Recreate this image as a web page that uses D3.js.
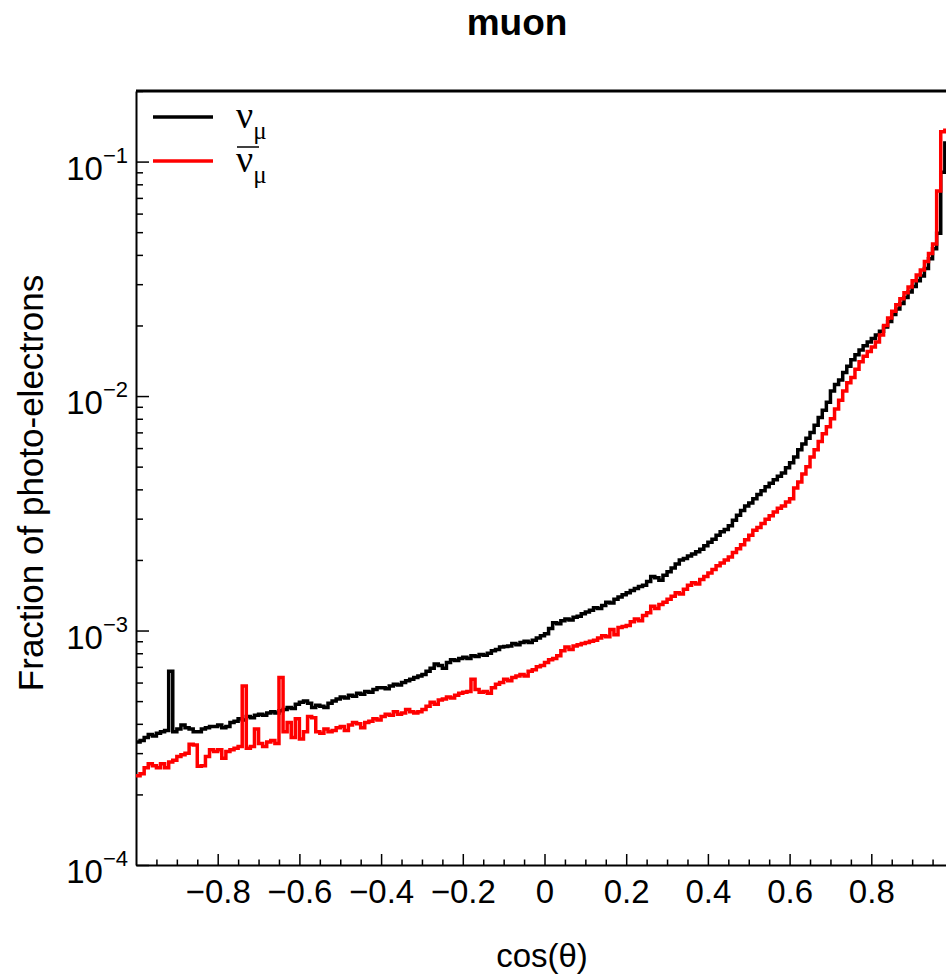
<!DOCTYPE html>
<html>
<head>
<meta charset="utf-8">
<script src="https://cdn.jsdelivr.net/npm/d3@7"></script>
<style>
body { margin: 0; background: #fff; }
</style>
</head>
<body>
<div id="box"></div>
<script>
// histogram binning (cos theta)
var xMin = -1, xMax = 1, binWidth = 0.01;

// nu_mu, fraction of photo-electrons per bin
var numu = [
3.35e-4, 3.4e-4, 3.5e-4, 3.6e-4, 3.55e-4, 3.65e-4, 3.7e-4, 3.75e-4, 6.7e-4, 3.7e-4,
3.8e-4, 3.95e-4, 3.85e-4, 3.8e-4, 3.7e-4, 3.7e-4, 3.8e-4, 3.85e-4, 3.9e-4, 3.9e-4,
3.95e-4, 3.85e-4, 3.9e-4, 4.05e-4, 4.1e-4, 4.2e-4, 4.15e-4, 4.3e-4, 4.25e-4, 4.35e-4,
4.4e-4, 4.35e-4, 4.45e-4, 4.5e-4, 4.45e-4, 4.55e-4, 4.6e-4, 4.7e-4, 4.65e-4, 4.85e-4,
4.95e-4, 5.0e-4, 4.9e-4, 4.7e-4, 4.8e-4, 4.75e-4, 4.7e-4, 4.9e-4, 5.0e-4, 5.1e-4,
5.2e-4, 5.15e-4, 5.3e-4, 5.25e-4, 5.4e-4, 5.35e-4, 5.5e-4, 5.45e-4, 5.6e-4, 5.7e-4,
5.7e-4, 5.65e-4, 5.8e-4, 5.9e-4, 5.85e-4, 6.0e-4, 6.1e-4, 6.2e-4, 6.3e-4, 6.4e-4,
6.5e-4, 6.7e-4, 6.9e-4, 7.2e-4, 7.1e-4, 6.9e-4, 7.3e-4, 7.5e-4, 7.45e-4, 7.6e-4,
7.7e-4, 7.6e-4, 7.8e-4, 7.75e-4, 7.9e-4, 7.85e-4, 8.0e-4, 8.2e-4, 8.3e-4, 8.5e-4,
8.55e-4, 8.6e-4, 8.8e-4, 8.7e-4, 8.9e-4, 9.0e-4, 8.9e-4, 9.1e-4, 9.3e-4, 9.5e-4,
9.7e-4, 1.02e-3, 1.08e-3, 1.07e-3, 1.10e-3, 1.12e-3, 1.11e-3, 1.14e-3, 1.15e-3, 1.18e-3,
1.20e-3, 1.22e-3, 1.25e-3, 1.24e-3, 1.28e-3, 1.32e-3, 1.31e-3, 1.36e-3, 1.39e-3, 1.42e-3,
1.45e-3, 1.48e-3, 1.51e-3, 1.54e-3, 1.56e-3, 1.62e-3, 1.70e-3, 1.68e-3, 1.64e-3, 1.72e-3,
1.78e-3, 1.85e-3, 1.92e-3, 2.00e-3, 2.03e-3, 2.08e-3, 2.12e-3, 2.17e-3, 2.22e-3, 2.30e-3,
2.38e-3, 2.45e-3, 2.55e-3, 2.64e-3, 2.70e-3, 2.80e-3, 2.95e-3, 3.10e-3, 3.25e-3, 3.40e-3,
3.50e-3, 3.65e-3, 3.80e-3, 3.95e-3, 4.10e-3, 4.25e-3, 4.40e-3, 4.55e-3, 4.70e-3, 4.95e-3,
5.20e-3, 5.50e-3, 5.90e-3, 6.25e-3, 6.60e-3, 7.00e-3, 7.50e-3, 8.10e-3, 8.70e-3, 9.40e-3,
1.05e-2, 1.12e-2, 1.17e-2, 1.26e-2, 1.34e-2, 1.43e-2, 1.50e-2, 1.57e-2, 1.64e-2, 1.70e-2,
1.76e-2, 1.82e-2, 1.89e-2, 1.97e-2, 2.08e-2, 2.23e-2, 2.35e-2, 2.48e-2, 2.63e-2, 2.78e-2,
2.93e-2, 3.10e-2, 3.25e-2, 3.50e-2, 3.85e-2, 4.25e-2, 4.95e-2, 9.0e-2, 1.2e-1, 1.9e-1
];

// anti nu_mu
var numubar = [
2.4e-4, 2.45e-4, 2.6e-4, 2.7e-4, 2.65e-4, 2.6e-4, 2.7e-4, 2.6e-4, 2.75e-4, 2.8e-4,
2.9e-4, 2.95e-4, 3.0e-4, 3.27e-4, 3.25e-4, 2.64e-4, 2.65e-4, 2.9e-4, 3.1e-4, 3.05e-4,
3.1e-4, 2.85e-4, 3.05e-4, 3.1e-4, 3.15e-4, 3.2e-4, 5.8e-4, 3.15e-4, 3.2e-4, 3.8e-4,
3.3e-4, 3.2e-4, 3.35e-4, 3.4e-4, 3.3e-4, 6.3e-4, 3.7e-4, 4.05e-4, 3.5e-4, 4.2e-4,
3.45e-4, 3.7e-4, 4.3e-4, 4.25e-4, 3.7e-4, 3.65e-4, 3.8e-4, 3.7e-4, 3.75e-4, 3.85e-4,
3.9e-4, 3.75e-4, 3.95e-4, 4.05e-4, 4.0e-4, 3.85e-4, 4.05e-4, 4.1e-4, 4.2e-4, 4.15e-4,
4.3e-4, 4.4e-4, 4.35e-4, 4.5e-4, 4.4e-4, 4.45e-4, 4.6e-4, 4.5e-4, 4.45e-4, 4.5e-4,
4.6e-4, 4.75e-4, 4.95e-4, 4.85e-4, 5.05e-4, 5.1e-4, 5.2e-4, 5.15e-4, 5.3e-4, 5.4e-4,
5.45e-4, 5.5e-4, 6.2e-4, 5.6e-4, 5.45e-4, 5.5e-4, 5.4e-4, 5.7e-4, 5.9e-4, 6.0e-4,
6.2e-4, 6.1e-4, 6.3e-4, 6.4e-4, 6.5e-4, 6.4e-4, 6.7e-4, 6.8e-4, 7.0e-4, 7.1e-4,
7.3e-4, 7.5e-4, 7.6e-4, 7.8e-4, 8.2e-4, 8.5e-4, 8.3e-4, 8.6e-4, 8.7e-4, 8.8e-4,
8.9e-4, 9.0e-4, 9.1e-4, 9.3e-4, 9.5e-4, 9.4e-4, 1.01e-3, 9.6e-4, 1.03e-3, 1.04e-3,
1.05e-3, 1.09e-3, 1.12e-3, 1.10e-3, 1.16e-3, 1.19e-3, 1.27e-3, 1.24e-3, 1.29e-3, 1.32e-3,
1.36e-3, 1.40e-3, 1.45e-3, 1.43e-3, 1.50e-3, 1.56e-3, 1.60e-3, 1.58e-3, 1.65e-3, 1.70e-3,
1.76e-3, 1.82e-3, 1.89e-3, 1.94e-3, 2.00e-3, 2.06e-3, 2.15e-3, 2.23e-3, 2.32e-3, 2.44e-3,
2.55e-3, 2.68e-3, 2.75e-3, 2.86e-3, 2.98e-3, 3.09e-3, 3.20e-3, 3.32e-3, 3.40e-3, 3.53e-3,
3.65e-3, 4.05e-3, 4.30e-3, 4.65e-3, 5.00e-3, 5.50e-3, 5.90e-3, 6.40e-3, 6.90e-3, 7.40e-3,
8.0e-3, 8.8e-3, 9.6e-3, 1.05e-2, 1.14e-2, 1.20e-2, 1.30e-2, 1.40e-2, 1.48e-2, 1.55e-2,
1.62e-2, 1.70e-2, 1.82e-2, 2.00e-2, 2.15e-2, 2.30e-2, 2.45e-2, 2.60e-2, 2.76e-2, 2.92e-2,
3.10e-2, 3.28e-2, 3.45e-2, 3.75e-2, 4.05e-2, 4.45e-2, 7.5e-2, 1.34e-1, 1.36e-1, 2.0e-1
];

var xTicks = [-0.8, -0.6, -0.4, -0.2, 0, 0.2, 0.4, 0.6, 0.8];
var xTickLabels = ["\u22120.8", "\u22120.6", "\u22120.4", "\u22120.2", "0", "0.2", "0.4", "0.6", "0.8"];
var yTicks = [1e-4, 1e-3, 1e-2, 1e-1];
var yTickExp = ["\u22124", "\u22123", "\u22122", "\u22121"];

var font = "'Liberation Sans', Arial, Helvetica, sans-serif";

document.addEventListener("DOMContentLoaded", function(e) {
    chart();
});

function histPoints(values){
    var pts = [];
    for (var i = 0; i < values.length; i++){
        pts.push([xMin + i * binWidth, values[i]]);
    }
    pts.push([xMin + values.length * binWidth, values[values.length - 1]]);
    return pts;
}

function chart(){
    var width = 946;
    var height = 978;
    var left = 136, right = 953, top = 91, bottom = 865;

    var svg = d3.select("#box")
        .append("svg")
        .attr("width", width)
        .attr("height", height);

    var x = d3.scaleLinear().domain([xMin, xMax]).range([left, right]);
    var y = d3.scaleLog().domain([1e-4, 0.2]).range([bottom, top]);

    svg.append("clipPath").attr("id", "plotclip")
        .append("rect")
        .attr("x", left).attr("y", top)
        .attr("width", right - left).attr("height", bottom - top);

    // title
    svg.append("text")
        .attr("x", 517)
        .attr("y", 35)
        .attr("text-anchor", "middle")
        .attr("font-family", font)
        .attr("font-weight", "bold")
        .attr("font-size", 37)
        .text("muon");

    // x minor ticks
    var xMinor = d3.range(-19, 20).map(function(k){ return k * 0.05; })
        .filter(function(v){ return Math.abs(Math.round(v * 100) % 20) != 0; });
    svg.append("g")
        .attr("transform", "translate(0," + bottom + ")")
        .call(d3.axisBottom(x).tickValues(xMinor).tickSize(-5.5).tickSizeOuter(0).tickFormat(""))
        .call(function(g){ g.select(".domain").remove(); })
        .selectAll("line").attr("stroke-width", 1.5);

    // x major ticks + labels
    var xg = svg.append("g")
        .attr("transform", "translate(0," + bottom + ")")
        .call(d3.axisBottom(x).tickValues(xTicks).tickSize(-11).tickSizeOuter(0).tickPadding(15)
            .tickFormat(function(d, i){ return xTickLabels[i]; }));
    xg.select(".domain").attr("stroke-width", 2);
    xg.selectAll("line").attr("stroke-width", 1.5);
    xg.selectAll("text").attr("font-family", font).attr("font-size", 33).attr("fill", "#000");

    // y minor ticks
    var yMinor = [];
    yTicks.forEach(function(d){
        for (var m = 2; m <= 9; m++){
            if (d * m <= 0.2) yMinor.push(d * m);
        }
    });
    svg.append("g")
        .attr("transform", "translate(" + left + ",0)")
        .call(d3.axisLeft(y).tickValues(yMinor).tickSize(-7).tickSizeOuter(0).tickFormat(""))
        .call(function(g){ g.select(".domain").remove(); })
        .selectAll("line").attr("stroke-width", 1.5);

    var yg = svg.append("g")
        .attr("transform", "translate(" + left + ",0)")
        .call(d3.axisLeft(y).tickValues(yTicks).tickSize(-13).tickSizeOuter(0).tickFormat(""));
    yg.select(".domain").attr("stroke-width", 2);
    yg.selectAll("line").attr("stroke-width", 1.5);

    // y labels 10^n
    for (var i = 0; i < yTicks.length; i++){
        var t = svg.append("text")
            .attr("x", 128)
            .attr("y", y(yTicks[i]) + 18)
            .attr("text-anchor", "end")
            .attr("font-family", font)
            .attr("font-size", 33);
        t.append("tspan").text("10");
        t.append("tspan").attr("dy", -17).attr("font-size", 22).text(yTickExp[i]);
    }

    // frame
    svg.append("line")
        .attr("x1", left).attr("x2", right)
        .attr("y1", top).attr("y2", top)
        .attr("stroke", "#000").attr("stroke-width", 3);

    // histograms
    var line = d3.line()
        .x(function(d){ return x(d[0]); })
        .y(function(d){ return y(d[1]); })
        .curve(d3.curveStepAfter);

    var plot = svg.append("g").attr("clip-path", "url(#plotclip)");
    plot.append("path")
        .attr("d", line(histPoints(numu)))
        .attr("fill", "none")
        .attr("stroke", "#000")
        .attr("stroke-width", 3.5);
    plot.append("path")
        .attr("d", line(histPoints(numubar)))
        .attr("fill", "none")
        .attr("stroke", "#ff0000")
        .attr("stroke-width", 3.5);

    // axis titles
    svg.append("text")
        .attr("x", 542)
        .attr("y", 967)
        .attr("text-anchor", "middle")
        .attr("font-family", font)
        .attr("font-size", 33)
        .text("cos(\u03b8)");

    svg.append("text")
        .attr("transform", "translate(43,483) rotate(-90)")
        .attr("text-anchor", "middle")
        .attr("font-family", font)
        .attr("font-size", 35)
        .text("Fraction of photo-electrons");

    // legend
    var legend = [
        {color: "#000", y: 117, bar: false},
        {color: "#ff0000", y: 161, bar: true}
    ];
    legend.forEach(function(d){
        svg.append("line")
            .attr("x1", 153).attr("x2", 213)
            .attr("y1", d.y).attr("y2", d.y)
            .attr("stroke", d.color).attr("stroke-width", 3.5);
        var t = svg.append("text")
            .attr("x", 236)
            .attr("y", d.y + 11)
            .attr("font-family", "'Liberation Serif', 'Times New Roman', serif")
            .attr("font-size", 38);
        t.append("tspan").text("\u03bd");
        t.append("tspan").attr("dy", 11).attr("font-size", 25).text("\u03bc");
        if (d.bar){
            svg.append("line")
                .attr("x1", 237).attr("x2", 259)
                .attr("y1", d.y - 14).attr("y2", d.y - 14)
                .attr("stroke", "#000").attr("stroke-width", 1.5);
        }
    });
}
</script>
</body>
</html>
